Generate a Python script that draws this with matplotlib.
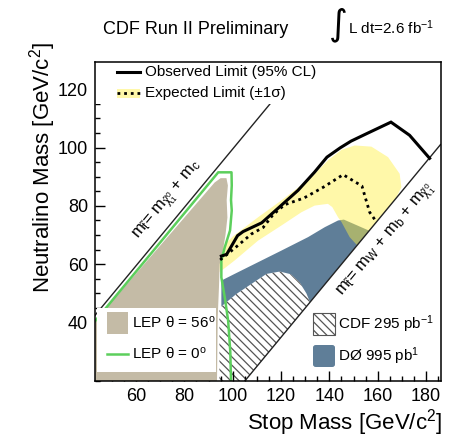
import matplotlib
matplotlib.use('Agg')
import matplotlib.pyplot as plt
from matplotlib.patches import Polygon, Rectangle, FancyBboxPatch
from matplotlib.lines import Line2D
from matplotlib.ticker import MultipleLocator

plt.rcParams['font.family'] = ['Liberation Sans', 'DejaVu Sans']
plt.rcParams['mathtext.fontset'] = 'custom'
plt.rcParams['mathtext.rm'] = 'Liberation Sans'
plt.rcParams['mathtext.it'] = 'Liberation Sans'
plt.rcParams['mathtext.bf'] = 'Liberation Sans:bold'
plt.rcParams['hatch.linewidth'] = 0.9

# ---------------- data ----------------
x_ticks = [60, 80, 100, 120, 140, 160, 180]
y_ticks = [40, 60, 80, 100, 120]

obs_x = [95.3, 97.5, 102.0, 104.3, 112.0, 118.5, 127.0, 133.9, 139.0, 144.5, 149.0, 155.3, 165.5, 173.2, 181.5]
obs_y = [62.8, 63.4, 69.8, 71.2, 74.2, 79.0, 85.3, 91.6, 96.7, 99.9, 102.2, 104.7, 108.7, 104.2, 96.3]

exp_x = [94.8, 100.8, 107.8, 112.6, 116.7, 121.5, 129.5, 137.5, 145.7, 153.5, 155.0, 156.7, 159.5]
exp_y = [61.5, 65.5, 70.4, 72.6, 77.0, 80.4, 82.7, 86.4, 90.7, 86.8, 82.5, 77.8, 74.5]

band_x = [94.0, 100.0, 110.5, 120.2, 132.6, 139.4, 145.0, 150.5, 157.4, 164.3, 169.1, 169.8, 167.5,
          151.5, 148.4, 145.0, 143.6, 141.2, 139.4, 133.9, 128.4, 120.2, 110.5, 100.8, 94.6]
band_y = [64.5, 69.5, 76.1, 81.9, 89.8, 95.6, 99.2, 100.7, 100.3, 96.7, 91.0, 86.4, 82.5,
          66.5, 69.3, 74.5, 76.1, 79.6, 80.7, 80.1, 77.8, 73.3, 68.1, 61.3, 57.3]

d0_x = [95.3, 95.3, 100.8, 110.5, 120.2, 131.2, 138.1, 143.6, 146.0, 156.5, 105.0]
d0_y = [20.0, 54.4, 56.7, 60.7, 64.7, 69.3, 72.7, 75.0, 75.3, 71.5, 20.0]

cdf_x = [94.5, 94.5, 101.5, 109.8, 114.0, 119.5, 124.0, 127.7, 130.5, 132.0, 105.0]
cdf_y = [20.0, 45.0, 49.8, 54.4, 56.7, 57.5, 56.6, 53.8, 50.0, 47.0, 20.0]

lep56_x = [43.0, 43.0, 92.5, 95.0, 97.4, 98.0, 97.5, 97.8, 97.0, 96.0, 94.6, 94.3, 93.8, 93.5]
lep56_y = [20.0, 40.5, 88.0, 89.5, 89.5, 87.0, 82.0, 76.0, 70.0, 65.0, 60.0, 52.0, 42.0, 20.0]

lep0_x = [43.0, 94.0, 99.5, 99.6, 99.3, 99.6, 98.9, 96.7, 95.3, 95.3, 96.7, 98.1, 99.0, 99.3]
lep0_y = [40.5, 91.5, 91.5, 87.0, 82.0, 78.4, 71.6, 65.8, 61.3, 55.5, 48.7, 40.7, 30.0, 20.0]

diag1_x = [43.0, 130.0]
diag1_y = [42.5, 129.5]
diag2_x = [105.0, 186.0]
diag2_y = [20.0, 101.0]

# ---------------- figure ----------------
W, H = 462, 448
fig = plt.figure(figsize=(W / 100, H / 100), dpi=100)
L, R, T, B = 95, 440.5, 62, 381
ax = fig.add_axes([L / W, 1 - B / H, (R - L) / W, (B - T) / H])
ax.set_xlim(43, 186)
ax.set_ylim(20, 129.3)

def axp(px, py):
    return ((px - L) / (R - L), (B - py) / (B - T))

c_tan = '#c4bba6'
c_blue = '#5f7e98'
c_green = '#5ccf5c'
c_hatch = '#555555'
c_yel = (1.0, 0.94, 0.25)

ax.add_patch(Polygon(list(zip(d0_x, d0_y)), closed=True, facecolor=c_blue, edgecolor='none', zorder=1))
ax.add_patch(Polygon(list(zip(cdf_x, cdf_y)), closed=True, facecolor='white', edgecolor=c_hatch,
                     linewidth=0, hatch='\\\\\\\\', zorder=2))
ax.add_patch(Polygon(list(zip(band_x, band_y)), closed=True, facecolor=c_yel, alpha=0.45,
                     edgecolor='none', zorder=3))
ax.add_patch(Polygon(list(zip(lep56_x, lep56_y)), closed=True, facecolor=c_tan, edgecolor='none', zorder=4))
ax.plot(lep0_x, lep0_y, color=c_green, lw=1.8, zorder=5)
ax.plot(obs_x, obs_y, color='black', lw=2.2, zorder=6, solid_joinstyle='miter')
ax.plot(exp_x, exp_y, color='black', lw=2.0, ls=(0, (1.0, 1.4)), zorder=6)
ax.plot(diag1_x, diag1_y, color='#222222', lw=1.0, zorder=5)
ax.plot(diag2_x, diag2_y, color='#222222', lw=1.0, zorder=5)

ax.text(73.1, 81.9, r'$m_{\tilde{t}}$= $m_{\tilde{\chi}^{0}_{1}}$ + m$_c$', rotation=50.3,
        rotation_mode='anchor', ha='center', va='center', fontsize=12, zorder=7)
ax.text(163.6, 68.1, r'$m_{\tilde{t}}$= m$_W$ + m$_b$ + $m_{\tilde{\chi}^{0}_{1}}$', rotation=50.3,
        rotation_mode='anchor', ha='center', va='center', fontsize=12, zorder=7)

# top-left legend
x0, y0 = axp(95, 104)
ax.add_patch(Rectangle((0, y0), 0.61, 1 - y0, transform=ax.transAxes, facecolor='white',
                       edgecolor='none', zorder=8))
a, ya = axp(117, 71.7)
b, _ = axp(140, 71.7)
ax.add_line(Line2D([a, b], [ya, ya], transform=ax.transAxes, color='black', lw=2.2, zorder=9))
tx, _ = axp(145, 0)
ax.text(tx, ya, 'Observed Limit (95% CL)', transform=ax.transAxes, va='center', ha='left',
        fontsize=11, zorder=9)
_, yb = axp(0, 93)
_, ybl = axp(0, 98)
_, ybh = axp(0, 88.5)
ax.add_patch(Rectangle((a, ybl), b - a, ybh - ybl, transform=ax.transAxes,
                       facecolor=c_yel, alpha=0.45, edgecolor='none', zorder=9))
ax.add_line(Line2D([a, b], [yb, yb], transform=ax.transAxes, color='black', lw=2.0,
                   ls=(0, (1.0, 1.4)), zorder=9))
ax.text(tx, yb, 'Expected Limit (\u00b11\u03c3)', transform=ax.transAxes, va='center', ha='left',
        fontsize=11, zorder=9)

# bottom-left legend
lx0, ly0 = axp(97, 372)
lx1, ly1 = axp(216, 308)
ax.add_patch(Rectangle((lx0, ly0), lx1 - lx0, ly1 - ly0, transform=ax.transAxes, facecolor='white',
                       edgecolor='none', zorder=8))
sx0, sy0 = axp(107, 334)
sx1, sy1 = axp(128, 312)
ax.add_patch(Rectangle((sx0, sy0), sx1 - sx0, sy1 - sy0, transform=ax.transAxes, facecolor=c_tan,
                       edgecolor='none', zorder=9))
t2x, t2y = axp(132, 323)
ax.text(t2x, t2y, r'LEP $\theta$ = 56$^{\rm o}$', transform=ax.transAxes, va='center', ha='left',
        fontsize=11, zorder=9)
_, gy = axp(0, 354)
ax.add_line(Line2D([sx0, sx1], [gy, gy], transform=ax.transAxes, color=c_green, lw=1.8, zorder=9))
ax.text(t2x, gy, r'LEP $\theta$ = 0$^{\rm o}$', transform=ax.transAxes, va='center', ha='left',
        fontsize=11, zorder=9)

# bottom-right legend
hx0, hy0 = axp(313, 335)
hx1, hy1 = axp(335, 313)
ax.add_patch(Rectangle((hx0, hy0), hx1 - hx0, hy1 - hy0, transform=ax.transAxes, facecolor='white',
                       edgecolor=c_hatch, lw=0.8, hatch='\\\\\\\\', zorder=9))
t3x, t3y = axp(338, 324)
ax.text(t3x, t3y, r'CDF 295 pb$^{-1}$', transform=ax.transAxes, va='center', ha='left',
        fontsize=11, zorder=9)
bx0, by0 = axp(313, 367)
bx1, by1 = axp(335, 345)
ax.add_patch(FancyBboxPatch((bx0, by0), bx1 - bx0, by1 - by0, boxstyle='round,pad=0,rounding_size=0.008',
                            transform=ax.transAxes, facecolor=c_blue, edgecolor='none', zorder=9))
_, t4y = axp(0, 356)
ax.text(t3x, t4y, 'D\u00d8 995 pb$^{1}$', transform=ax.transAxes, va='center', ha='left',
        fontsize=11, zorder=9)

# axes styling
ax.set_xticks(x_ticks)
ax.set_yticks(y_ticks)
ax.xaxis.set_minor_locator(MultipleLocator(5))
ax.yaxis.set_minor_locator(MultipleLocator(5))
ax.tick_params(which='both', direction='in', top=False, right=False, labelsize=13, width=1.0,
               color='black', zorder=10)
ax.tick_params(which='major', length=7.5, pad=5)
ax.tick_params(which='minor', length=3.8)
for s in ax.spines.values():
    s.set_linewidth(1.1)
    s.set_zorder(10)
ax.set_axisbelow(False)

fig.text(442 / W, 1 - 429 / H, 'Stop Mass [GeV/c$^{2}$]', ha='right', va='baseline', fontsize=16)
fig.text(43 / W, 1 - 167 / H, 'Neutralino Mass [GeV/c$^{2}$]', ha='center', va='center',
         fontsize=16, rotation=90)
fig.text(103 / W, 1 - 30 / H, 'CDF Run II Preliminary', ha='left', va='center', fontsize=13)
fig.text(338 / W, 1 - 25 / H, '\u222b', ha='center', va='center', fontsize=26,
         family='DejaVu Sans')
fig.text(348 / W, 1 - 28 / H, 'L dt=2.6 fb$^{-1}$', ha='left', va='center', fontsize=11)

fig.savefig('out.png', dpi=100)
